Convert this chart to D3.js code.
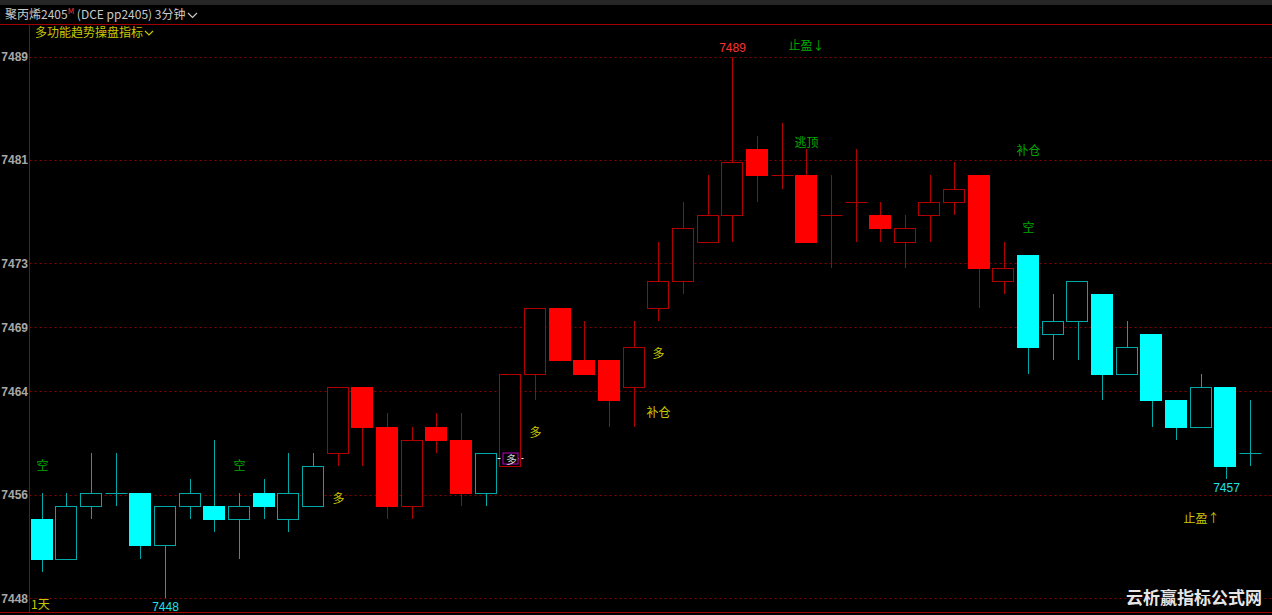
<!DOCTYPE html>
<html>
<head>
<meta charset="utf-8">
<script src="https://cdn.jsdelivr.net/npm/d3@7/dist/d3.min.js"></script>
<style>
  html, body { margin: 0; padding: 0; background: #000; overflow: hidden; }
  svg { display: block; }
</style>
</head>
<body>
<svg id="chart" width="1272" height="615"></svg>
<script>
// ---------- data ----------
const openV  = [7454,7451,7455,7456,7456,7452,7455,7455,7454,7456,7454,7455,7459,7464,7461,7455,7461,7460,7456,7458,7465,7470,7466,7466,7464,7470,7472,7475,7477,7482,7480,7480,7477,7478,7477,7475,7477,7478,7480,7472,7474,7468,7469,7471,7465,7468,7463,7461,7464,7459];
const highV  = [7456,7456,7459,7459,7456,7455,7457,7460,7456,7457,7459,7459,7464,7464,7462,7461,7462,7462,7459,7465,7470,7470,7469,7466,7469,7475,7478,7480,7489,7483,7484,7482,7480,7482,7478,7477,7480,7481,7480,7475,7474,7471,7472,7471,7469,7468,7463,7465,7464,7463];
const lowV   = [7450,7451,7454,7455,7451,7448,7454,7453,7451,7454,7453,7455,7458,7458,7454,7454,7459,7455,7455,7458,7463,7466,7465,7461,7461,7469,7471,7475,7475,7478,7479,7475,7473,7475,7475,7473,7475,7477,7470,7471,7465,7466,7466,7463,7465,7461,7460,7461,7457,7458];
const closeV = [7451,7455,7456,7456,7452,7455,7456,7454,7455,7455,7456,7458,7464,7461,7455,7460,7460,7456,7459,7465,7470,7466,7465,7463,7467,7472,7476,7477,7481,7480,7480,7475,7477,7478,7476,7476,7478,7479,7473,7473,7467,7469,7472,7465,7467,7463,7461,7464,7458,7459];
// 1 = bullish state (red), -1 = bearish state (cyan)
const trendV = [-1,-1,-1,-1,-1,-1,-1,-1,-1,-1,-1,-1,1,1,1,1,1,1,-1,1,1,1,1,1,1,1,1,1,1,1,1,1,1,1,1,1,1,1,1,1,-1,-1,-1,-1,-1,-1,-1,-1,-1,-1];

const tickValues = [7489, 7481.17, 7473.34, 7468.5, 7463.66, 7455.83, 7448];
const tickLabels = ["7489","7481","7473","7469","7464","7456","7448"];

// signal texts: candle index, price level, text, kind
const sigIndex = [0, 8, 12, 20, 25, 25, 31, 31, 40, 40, 47];
const sigPrice = [7458.1, 7458.1, 7455.6, 7460.6, 7466.6, 7462.1, 7489.9, 7482.6, 7482.0, 7476.1, 7454.1];
const sigText  = ["空","空","多","多","多","补仓","止盈↓","逃顶","补仓","空","止盈↑"];
const sigKind  = ["g","g","y","y","y","y","g","g","g","g","y"];

// special long marker
const markIndex = [19];
const markPrice = [7458.6];
const markText  = ["多"];

// extreme price labels
const extIndex = [28, 5, 48];
const extPrice = [7489, 7448, 7457];
const extLabel = ["7489", "7448", "7457"];
const extPos   = ["above", "below", "below"];

// ---------- layout ----------
const W = 1272, H = 615;
const pL = 29.5, pR = 1262.5, pT = 24.5, pB = 612.5;
const svg = d3.select("#chart");
svg.append("rect").attr("width", W).attr("height", H).attr("fill", "#000");
svg.append("rect").attr("width", W).attr("height", 5).attr("fill", "#262626");

const n = openV.length;
const x = d3.scaleBand().domain(d3.range(n)).range([pL, pR]).paddingInner(0.1).paddingOuter(0.05);
const y = d3.scaleLinear().domain([7448, 7489]).range([598.3, 56.5]);
const cx = i => Math.round(x(i) + x.bandwidth() / 2) + 0.5;

const COL = {
  upFill: "#ff0000", upLine: "#b00000",
  dnFill: "#00ffff", dnLine: "#00a8a8",
  grid: "#8a0000", frame: "#a00000",
  axis: "#a8a8a8", green: "#00a800", yellow: "#c8c800"
};

// grid lines
svg.append("g").selectAll("line").data(tickValues).join("line")
  .attr("x1", pL).attr("x2", W)
  .attr("y1", d => Math.round(y(d)) + 0.5).attr("y2", d => Math.round(y(d)) + 0.5)
  .attr("stroke", COL.grid).attr("stroke-width", 1).attr("stroke-dasharray", "2,3");

// y axis labels via d3 axis
const yAxis = d3.axisLeft(y).tickValues(tickValues).tickSize(0).tickPadding(0)
  .tickFormat((d, i) => tickLabels[i]);
const ag = svg.append("g").attr("transform", `translate(28,0)`).call(yAxis);
ag.select(".domain").remove();
ag.selectAll("text").attr("fill", COL.axis).attr("font-family", "Arial, 'Liberation Sans', sans-serif")
  .attr("font-size", 12).attr("font-weight", "bold");

// frame lines
svg.append("line").attr("x1", 0).attr("x2", W).attr("y1", pT).attr("y2", pT).attr("stroke", COL.frame);
svg.append("line").attr("x1", pL).attr("x2", pL).attr("y1", pT).attr("y2", pB).attr("stroke", COL.frame);
svg.append("line").attr("x1", 0).attr("x2", W).attr("y1", pB).attr("y2", pB).attr("stroke", COL.frame);

// candles
const candles = d3.range(n).map(i => ({ i, o: openV[i], h: highV[i], l: lowV[i], c: closeV[i], t: trendV[i] }));
const bw = Math.round(x.bandwidth());
const cg = svg.append("g");
candles.forEach(d => {
  const lineCol = d.t > 0 ? COL.upLine : COL.dnLine;
  const fillCol = d.t > 0 ? COL.upFill : COL.dnFill;
  const xc = cx(d.i);
  const x0 = Math.round(x(d.i)) + 0.5;
  cg.append("line").attr("x1", xc).attr("x2", xc)
    .attr("y1", Math.round(y(d.h))).attr("y2", Math.round(y(d.l)))
    .attr("stroke", lineCol).attr("stroke-width", 1);
  if (d.o === d.c) {
    const yy = Math.round(y(d.o)) + 0.5;
    cg.append("line").attr("x1", x0).attr("x2", x0 + bw).attr("y1", yy).attr("y2", yy)
      .attr("stroke", lineCol).attr("stroke-width", 1);
  } else {
    const yt = Math.round(y(Math.max(d.o, d.c))) + 0.5;
    const yb = Math.round(y(Math.min(d.o, d.c))) + 0.5;
    const hollow = d.c > d.o;
    cg.append("rect").attr("x", x0).attr("y", yt).attr("width", bw - 1).attr("height", yb - yt)
      .attr("fill", hollow ? "#000" : fillCol)
      .attr("stroke", hollow ? lineCol : fillCol).attr("stroke-width", 1);
  }
});

// signal texts
const fontCJK = "'Noto Sans CJK SC', 'Noto Sans', sans-serif";
svg.append("g").selectAll("text").data(d3.range(sigText.length)).join("text")
  .attr("x", k => cx(sigIndex[k]))
  .attr("y", k => y(sigPrice[k]))
  .attr("text-anchor", "middle").attr("dominant-baseline", "central")
  .attr("font-family", fontCJK).attr("font-size", 12)
  .attr("fill", k => sigKind[k] === "g" ? COL.green : COL.yellow)
  .text(k => sigText[k]);

// special long marker
markIndex.forEach((mi, k) => {
  const xc = cx(mi), yy = Math.round(y(markPrice[k])) + 0.5;
  const g = svg.append("g");
  g.append("line").attr("x1", xc - 13).attr("x2", xc + 13).attr("y1", yy).attr("y2", yy)
    .attr("stroke", "#ffffff").attr("stroke-dasharray", "3,3");
  g.append("rect").attr("x", xc - 7.5).attr("y", yy - 5.5).attr("width", 15).attr("height", 11)
    .attr("fill", "#000").attr("stroke", "#c000c0");
  g.append("text").attr("x", xc + 1).attr("y", yy).attr("text-anchor", "middle")
    .attr("dominant-baseline", "central").attr("font-family", fontCJK).attr("font-size", 11)
    .attr("fill", "#d0d0d0").text(markText[k]);
});

// extreme price labels
svg.append("g").selectAll("text").data(d3.range(extIndex.length)).join("text")
  .attr("x", k => cx(extIndex[k]))
  .attr("y", k => y(extPrice[k]) + (extPos[k] === "above" ? -9 : 9))
  .attr("text-anchor", "middle").attr("dominant-baseline", "central")
  .attr("font-family", "Arial, 'Liberation Sans', sans-serif").attr("font-size", 12)
  .attr("fill", k => extPos[k] === "above" ? "#ff3030" : "#20e0e8")
  .text(k => extLabel[k]);

// header
const hdr = svg.append("text").attr("x", 5).attr("y", 19).attr("font-family", fontCJK)
  .attr("font-size", 12).attr("fill", "#c8c8c8");
hdr.append("tspan").text("聚丙烯2405");
hdr.append("tspan").attr("fill", "#ff3030").attr("font-size", 8).attr("dy", -5).text("M");
hdr.append("tspan").attr("dy", 5).text(" (DCE pp2405)  3分钟");
svg.append("path").attr("d", "M188,13 l4.5,4.5 l4.5,-4.5").attr("fill", "none").attr("stroke", "#c8c8c8").attr("stroke-width", 1.2);

svg.append("text").attr("x", 35).attr("y", 37).attr("font-family", fontCJK)
  .attr("font-size", 12).attr("fill", COL.yellow).text("多功能趋势操盘指标");
svg.append("path").attr("d", "M145,31 l4,4 l4,-4").attr("fill", "none").attr("stroke", COL.yellow).attr("stroke-width", 1.2);

svg.append("text").attr("x", 31).attr("y", 609).attr("font-family", fontCJK)
  .attr("font-size", 12).attr("fill", COL.yellow).text("1天");

// watermark
svg.append("text").attr("x", 1126).attr("y", 604).attr("font-family", fontCJK)
  .attr("font-size", 17).attr("font-weight", "bold").attr("fill", "#e6e6e6")
  .attr("stroke", "#000").attr("stroke-width", 0.5).attr("paint-order", "stroke")
  .text("云析赢指标公式网");
</script>
</body>
</html>
